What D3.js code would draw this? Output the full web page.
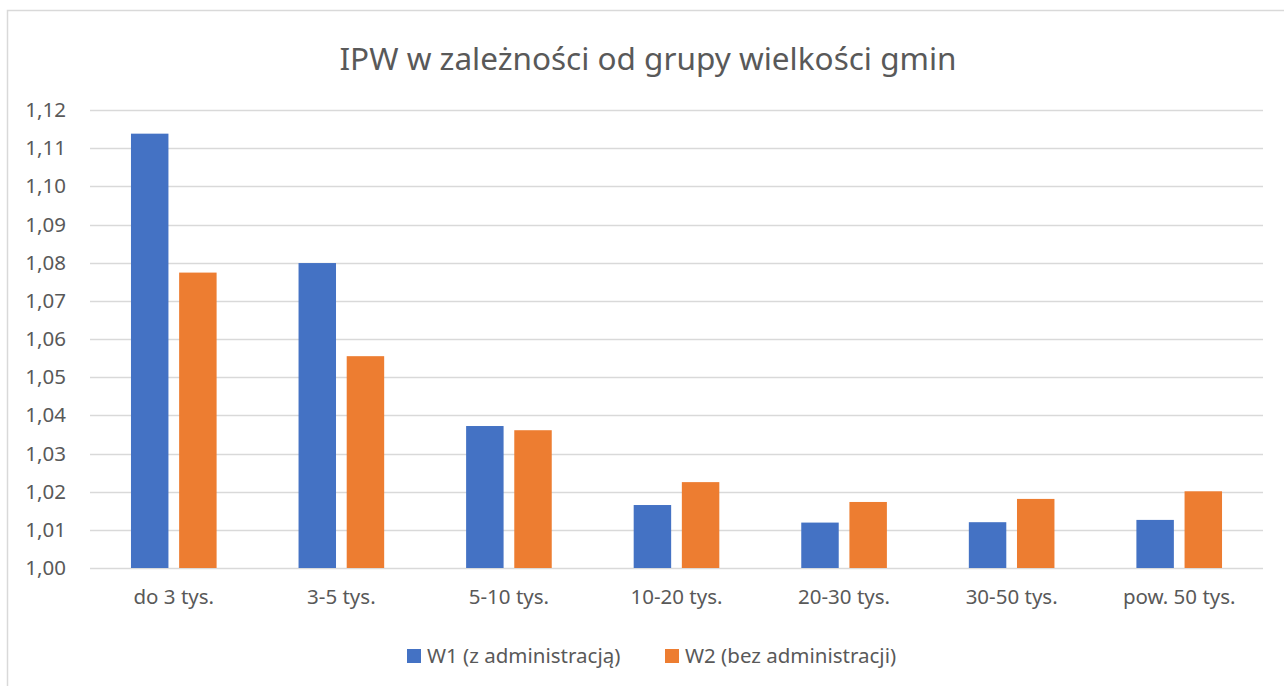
<!DOCTYPE html>
<html>
<head>
<meta charset="utf-8">
<script src="https://cdn.jsdelivr.net/npm/d3@7"></script>
<style>
  body { margin: 0; background: #fff; }
  svg text { font-family: "Noto Sans", "Open Sans", sans-serif; fill: #595959; }
</style>
</head>
<body>
<div id="chart"></div>
<script>

// categories and series
var categories = ["do 3 tys.", "3-5 tys.", "5-10 tys.", "10-20 tys.", "20-30 tys.", "30-50 tys.", "pow. 50 tys."];
var seriesNames = ["W1 (z administracją)", "W2 (bez administracji)"];
var w1 = [1.1138, 1.0799, 1.0372, 1.0165, 1.0119, 1.0120, 1.0126];
var w2 = [1.0774, 1.0555, 1.0361, 1.0225, 1.0173, 1.0181, 1.0201];
var yTicks = [1.00, 1.01, 1.02, 1.03, 1.04, 1.05, 1.06, 1.07, 1.08, 1.09, 1.10, 1.11, 1.12];
var colors = ["#4472C4", "#ED7D31"];

var width = 1284, height = 686;
var margin = {top: 110, right: 21, bottom: 118, left: 90};
var plotW = width - margin.left - margin.right,
    plotH = height - margin.top - margin.bottom;

var svg = d3.select("#chart").append("svg")
    .attr("width", width)
    .attr("height", height);

// chart border (only top and left visible in the frame)
svg.append("path")
    .attr("d", "M7.5," + height + " V10.5 H" + width)
    .attr("fill", "none")
    .attr("stroke", "#d9d9d9")
    .attr("stroke-width", 1.5);

// title
svg.append("text")
    .attr("x", 648)
    .attr("y", 70)
    .attr("text-anchor", "middle")
    .style("font-size", "31.5px")
    .text("IPW w zależności od grupy wielkości gmin");

var g = svg.append("g")
    .attr("transform", "translate(" + margin.left + "," + margin.top + ")");

var x = d3.scaleBand().domain(categories).range([0, plotW]).padding(0);
var groupW = x.bandwidth() * 0.511;
var xSub = d3.scaleBand().domain([0, 1]).range([0, groupW]).paddingInner(0.222);

var y = d3.scaleLinear().domain([1.00, 1.12]).range([plotH, 0]);

// gridlines
g.append("g")
  .selectAll("line")
  .data(yTicks)
  .join("line")
    .attr("x1", 0)
    .attr("x2", plotW)
    .attr("y1", function(d){ return Math.round(y(d)) + 0.5; })
    .attr("y2", function(d){ return Math.round(y(d)) + 0.5; })
    .attr("stroke", "#d9d9d9")
    .attr("stroke-width", 1.5);

// y axis labels
var yAxis = d3.axisLeft(y)
    .tickValues(yTicks)
    .tickSize(0)
    .tickPadding(24)
    .tickFormat(function(d){ return d3.format(".2f")(d).replace(".", ","); });

g.append("g")
    .call(yAxis)
    .call(function(a){ a.select(".domain").remove(); })
    .selectAll("text")
    .style("font-size", "20.5px")
    .attr("fill", "#595959");

// x axis labels
var xAxis = d3.axisBottom(x).tickSize(0).tickPadding(21);
g.append("g")
    .attr("transform", "translate(0," + plotH + ")")
    .call(xAxis)
    .call(function(a){ a.select(".domain").remove(); })
    .selectAll("text")
    .style("font-size", "20.5px")
    .attr("fill", "#595959");

// bars
var data = [w1, w2];
var groups = g.selectAll("g.cat")
    .data(categories)
    .join("g")
    .attr("class", "cat")
    .attr("transform", function(d){
        return "translate(" + (x(d) + (x.bandwidth() - groupW) / 2) + ",0)";
    });

groups.selectAll("rect")
    .data(function(d, i){ return data.map(function(s, k){ return {k: k, v: s[i]}; }); })
    .join("rect")
    .attr("x", function(d){ return xSub(d.k); })
    .attr("width", xSub.bandwidth())
    .attr("y", function(d){ return y(d.v); })
    .attr("height", function(d){ return y(1.00) - y(d.v); })
    .attr("fill", function(d){ return colors[d.k]; });

// legend
var legendX = [407, 665];
var legend = svg.append("g").selectAll("g")
    .data(seriesNames)
    .join("g")
    .attr("transform", function(d, i){ return "translate(" + legendX[i] + ",649)"; });

legend.append("rect")
    .attr("width", 14)
    .attr("height", 14)
    .attr("fill", function(d, i){ return colors[i]; });

legend.append("text")
    .attr("x", 20)
    .attr("y", 14)
    .style("font-size", "20.5px")
    .text(function(d){ return d; });

</script>
</body>
</html>
